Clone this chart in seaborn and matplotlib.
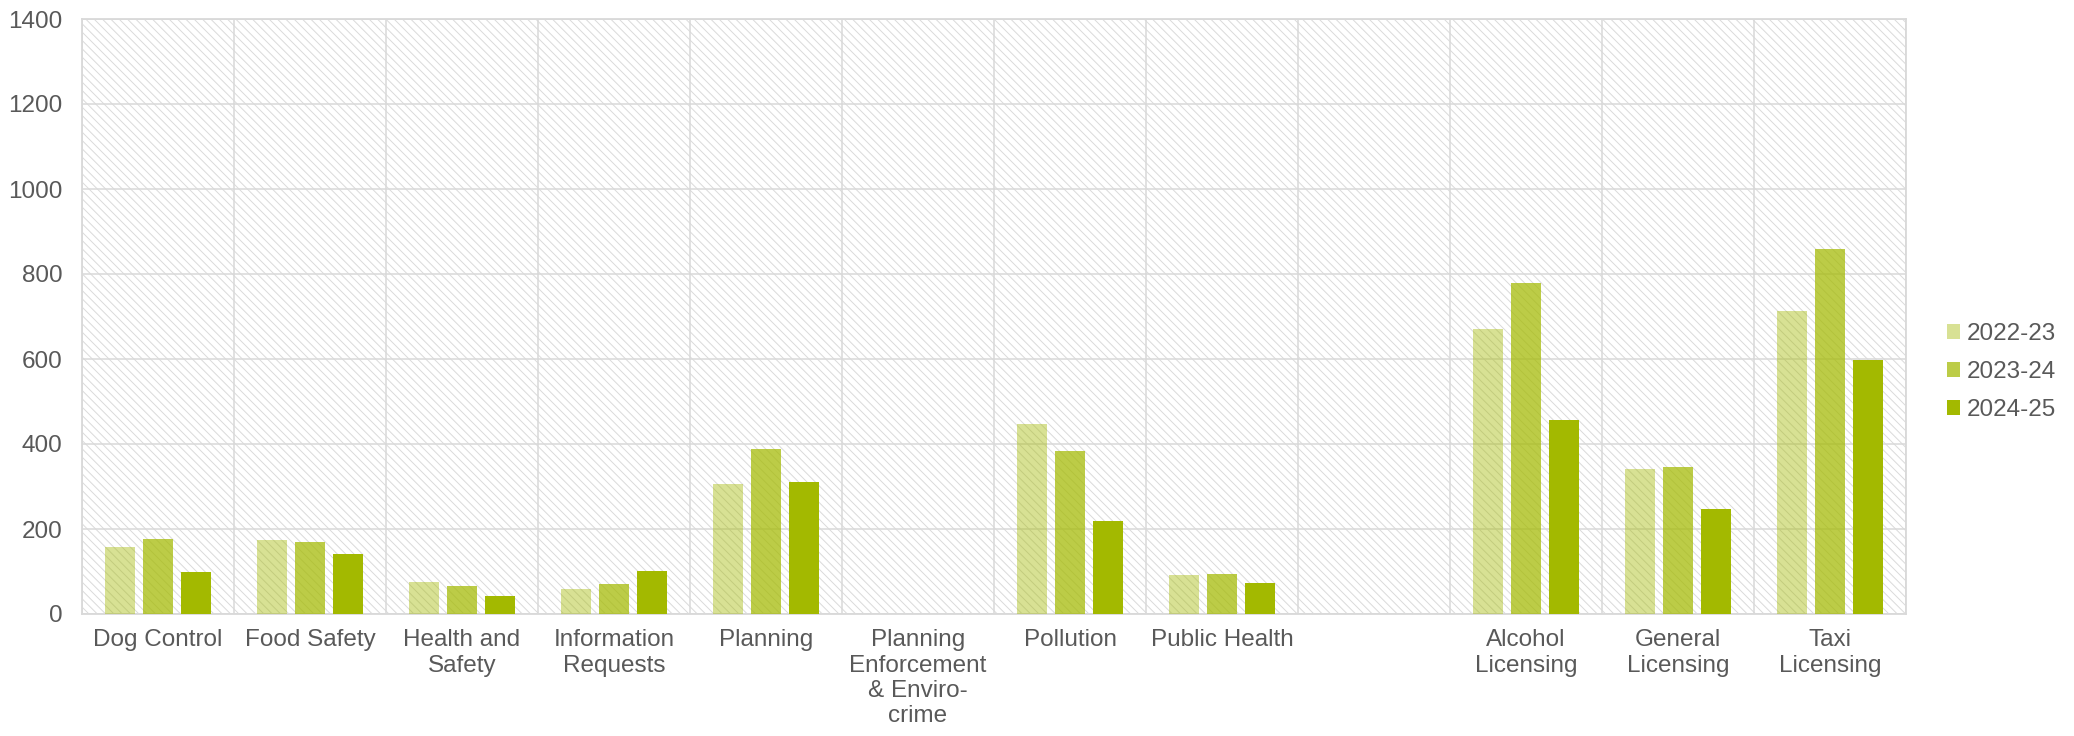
import matplotlib
matplotlib.use("Agg")
import matplotlib.pyplot as plt
from matplotlib.patches import Rectangle, Patch
import numpy as np
import pandas as pd
import seaborn as sns

categories = ["Dog Control", "Food Safety", "Health and\nSafety", "Information\nRequests",
              "Planning", "Planning\nEnforcement\n& Enviro-\ncrime", "Pollution", "Public Health",
              " ", "Alcohol\nLicensing", "General\nLicensing", "Taxi\nLicensing"]
years = ["2022-23", "2023-24", "2024-25"]
v2022 = [158, 175, 75, 60, 305, np.nan, 446, 91, np.nan, 670, 341, 714]
v2023 = [177, 169, 67, 70, 389, np.nan, 384, 93, np.nan, 778, 347, 860]
v2024 = [100, 142, 42, 101, 311, np.nan, 220, 73, np.nan, 457, 247, 597]
yticks = [0, 200, 400, 600, 800, 1000, 1200, 1400]

base = "#a3b900"
alphas = [0.42, 0.72, 1.0]
grid_c = "#d9d9d9"
text_c = "#595959"

rows = []
for y, vals in zip(years, [v2022, v2023, v2024]):
    for c, v in zip(categories, vals):
        rows.append({"category": c, "year": y, "value": v})
df = pd.DataFrame(rows)

sns.set_style("white")
plt.rcParams["font.family"] = ["Liberation Sans", "DejaVu Sans"]
plt.rcParams["hatch.linewidth"] = 0.7

fig = plt.figure(figsize=(20.74, 7.36), dpi=100)
ax = fig.add_axes([82 / 2074, 1 - 614 / 736, (1906 - 82) / 2074, (614 - 19) / 736])

# hatched background
bg = Rectangle((0, 0), 1, 1, transform=ax.transAxes, facecolor="white",
               edgecolor="#dadada", hatch="\\\\\\\\", lw=0, zorder=0)
ax.add_patch(bg)

sns.barplot(data=df, x="category", y="value", hue="year", order=categories,
            hue_order=years, palette={y: base for y in years}, width=0.75, gap=0.2,
            saturation=1, ax=ax, legend=False, zorder=3, errorbar=None)
for cont, a in zip(ax.containers, alphas):
    for p in cont:
        p.set_alpha(a)
        p.set_linewidth(0)

ax.set_ylim(0, 1400)
ax.set_xlim(-0.5, len(categories) - 0.5)
ax.set_yticks(yticks)
ax.set_yticklabels([str(t) for t in yticks])
ax.set_xticks(range(len(categories)))
ax.set_xticklabels(categories)
ax.set_xticks(np.arange(-0.5, len(categories), 1.0), minor=True)
ax.grid(axis="y", which="major", color=grid_c, lw=1.1, zorder=1)
ax.grid(axis="x", which="minor", color=grid_c, lw=1.1, zorder=1)
ax.grid(axis="x", which="major", visible=False)
ax.set_axisbelow(True)
ax.tick_params(axis="both", which="both", length=0)
ax.tick_params(axis="x", pad=11, labelsize=17.5, labelcolor=text_c)
ax.tick_params(axis="y", pad=14, labelsize=17.5, labelcolor=text_c)
ax.set_xlabel("")
ax.set_ylabel("")
for s in ax.spines.values():
    s.set_visible(True)
    s.set_color(grid_c)
    s.set_linewidth(1.3)

handles = [Patch(facecolor=base, alpha=a, lw=0) for a in alphas]
fig.legend(handles, years, loc="center left", bbox_to_anchor=(1947 / 2074, 1 - 372 / 736),
           frameon=False, fontsize=17.5, labelcolor=text_c, handlelength=0.55,
           handleheight=0.55, handletextpad=0.25, labelspacing=0.65, borderpad=0,
           borderaxespad=0)

fig.savefig("out.png", dpi=100)
